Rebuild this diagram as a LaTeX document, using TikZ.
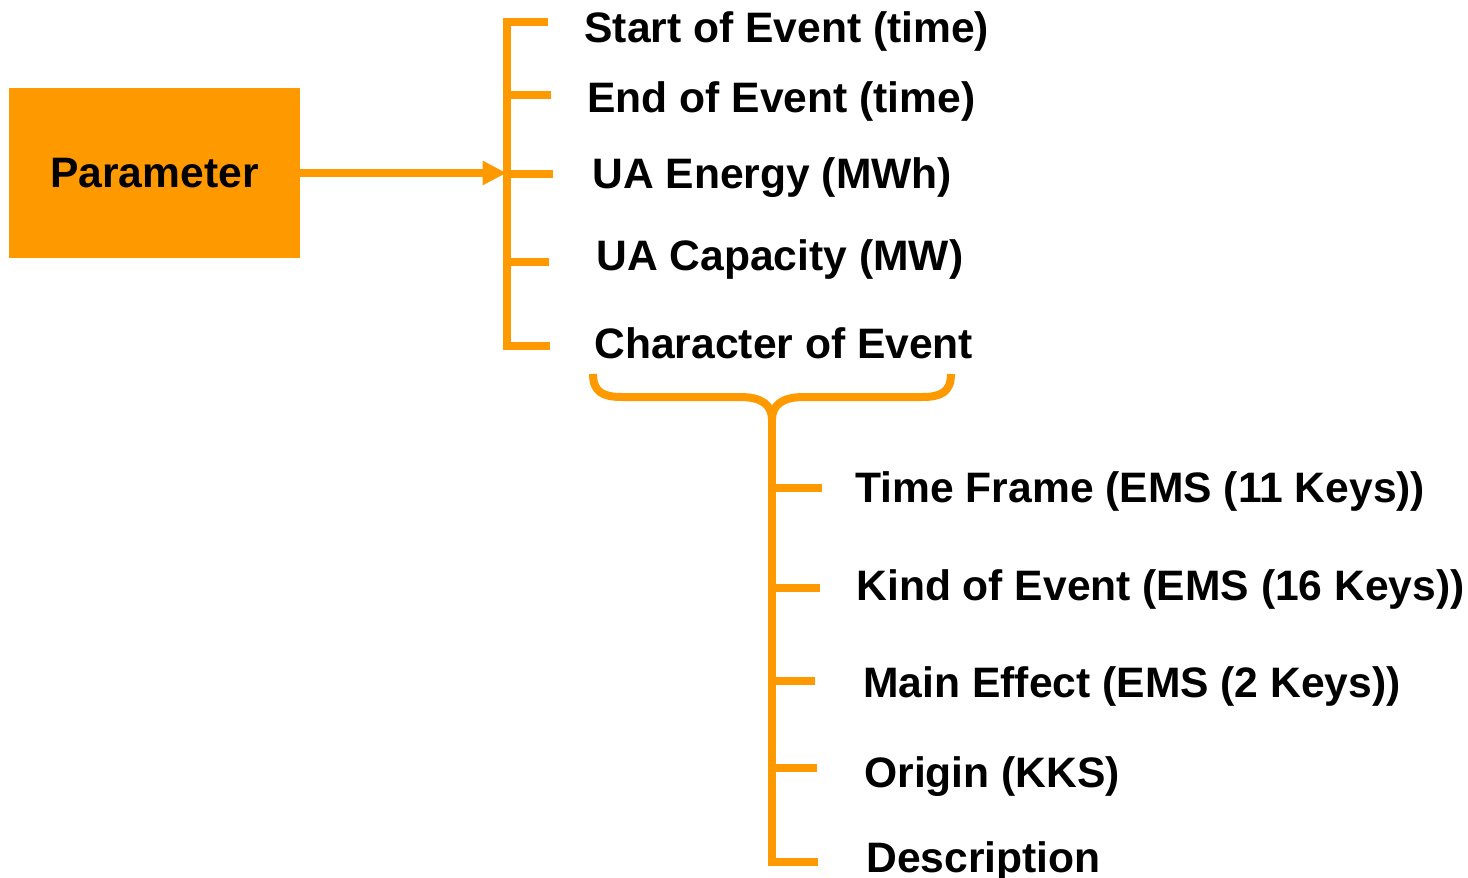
\documentclass[tikz,border=0pt]{standalone}
\usepackage{fontspec}
\setmainfont{Liberation Sans}
\usepackage{xcolor}
\usepackage{tikz}
\usetikzlibrary{arrows.meta}
\definecolor{evorange}{HTML}{FF9900}

\begin{document}
\begin{tikzpicture}[x=0.5pt,y=-0.5pt,>={Triangle[length=12pt,width=11.5pt]}]
    \tikzstyle{every node}=[font=\fontsize{21.3}{25}\selectfont\bfseries,text=black]
    \tikzstyle{item}=[anchor=base west,inner sep=0pt]
    \tikzstyle{bar}=[draw=evorange,line width=4pt]
    \useasboundingbox (0,0) rectangle (1468,878);
    \node[fill=evorange,minimum width=145.5pt,minimum height=85pt,inner sep=0pt] (P) at (154.5,173) {Parameter};
    \coordinate (a1) at (506.5,21.5);
    \coordinate (a2) at (506.5,95);
    \coordinate (a3) at (506.5,174);
    \coordinate (a4) at (506.5,262);
    \coordinate (a5) at (506.5,346);
    \node[item] (T1) at (584,42)  {Start of Event (time)};
    \node[item] (T2) at (587,112) {End of Event (time)};
    \node[item] (T3) at (592,188) {UA Energy (MWh)};
    \node[item] (T4) at (596,270) {UA Capacity (MW)};
    \node[item] (T5) at (594,358) {Character of Event};
    \coordinate (bl) at (593,374);
    \coordinate (br) at (951,374);
    \coordinate (bm) at (772,420);
    \coordinate (c1) at (772,487.5);
    \coordinate (c2) at (772,587.5);
    \coordinate (c3) at (772,681);
    \coordinate (c4) at (772,767.5);
    \coordinate (c5) at (772,861.5);
    \node[item] (C1) at (855,502) {Time Frame (EMS (11 Keys))};
    \node[item] (C2) at (856,600) {Kind of Event (EMS (16 Keys))};
    \node[item] (C3) at (863,697) {Main Effect (EMS (2 Keys))};
    \node[item] (C4) at (864,787) {Origin (KKS)};
    \node[item] (C5) at (866,872) {Description};
\draw[bar,->] (P.east) -- (P.east -| a3);
\draw[bar] (a1) ++(41.5,0) -- (a1) -- (a5) -- ++(43.5,0);
\draw[bar] (a2) -- ++(44.5,0);
\draw[bar] (a3) -- ++(46.5,0);
\draw[bar] (a4) -- ++(42.5,0);
\draw[bar] (bl) .. controls (593,392) and (603,397) .. (622,397) -- (740,397)
    .. controls (762,397) and (772,405) .. (bm)
    .. controls (772,405) and (782,397) .. (804,397) -- (922,397)
    .. controls (941,397) and (951,392) .. (br);
\draw[bar] (bm) -- (c5) -- ++(46,0);
\draw[bar] (c1) -- ++(50,0);
\draw[bar] (c2) -- ++(48,0);
\draw[bar] (c3) -- ++(43,0);
\draw[bar] (c4) -- ++(45,0);
  \end{tikzpicture}
\end{document}
